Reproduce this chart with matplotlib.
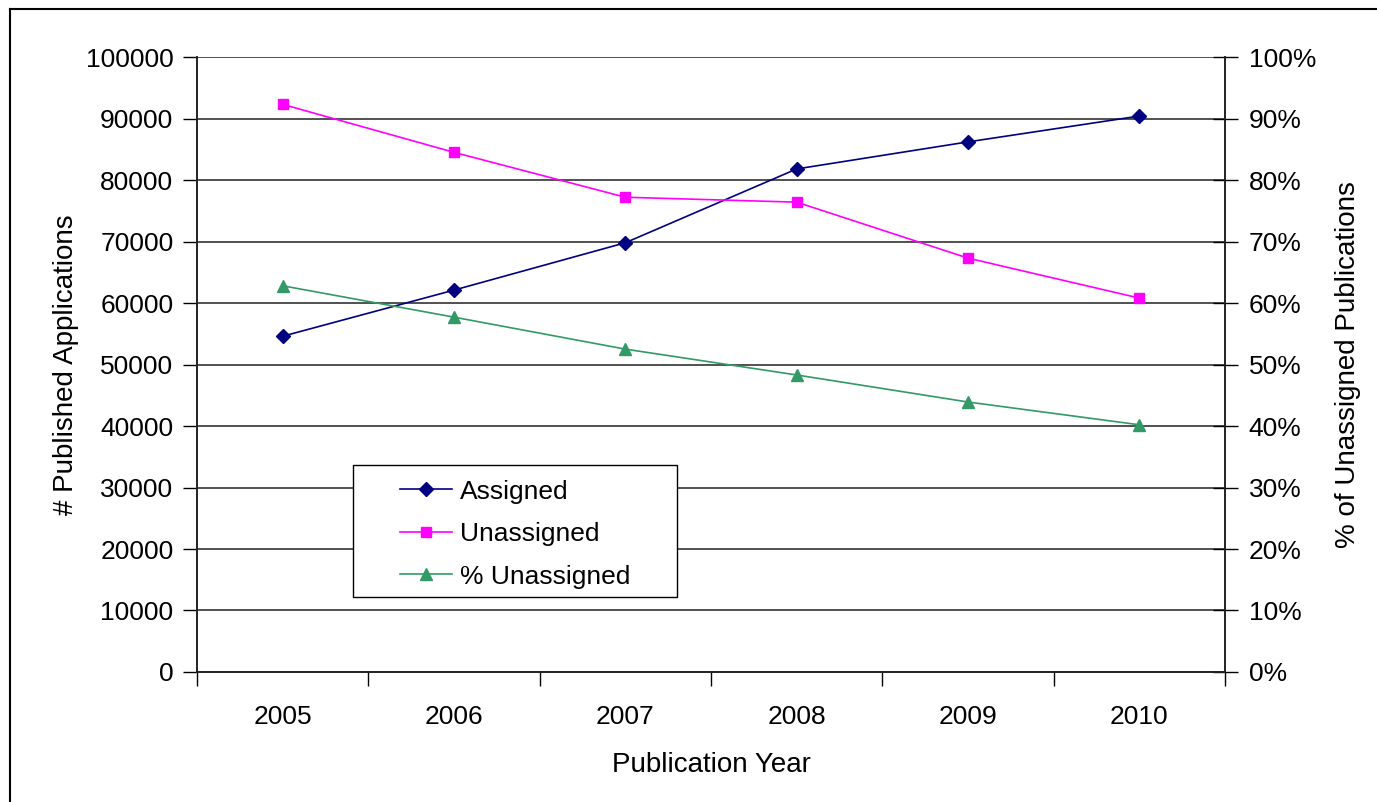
import matplotlib
matplotlib.use("Agg")
import matplotlib.pyplot as plt
import numpy as np
from matplotlib.lines import Line2D
from matplotlib.patches import Rectangle
from matplotlib.ticker import PercentFormatter

plt.rcParams['font.family'] = ['Liberation Sans', 'DejaVu Sans']

# data
years = ['2005', '2006', '2007', '2008', '2009', '2010']
assigned = [54600, 62100, 69800, 81800, 86200, 90400]
unassigned = [92300, 84500, 77200, 76400, 67300, 60800]
pct_unassigned = [0.628, 0.577, 0.525, 0.483, 0.439, 0.402]

fig = plt.figure(figsize=(13.77, 8.02), dpi=100)
ax = fig.add_axes([0.1431, 0.1621, 0.7465, 0.7668])
ax2 = ax.twinx()

x = np.arange(len(years))

# outer chart frame (only left and top edges are visible in the original)
fig.add_artist(Line2D([0.0073, 0.0073], [0, 0.989], transform=fig.transFigure, color='black', lw=1.5))
fig.add_artist(Line2D([0.0073, 1.0], [0.989, 0.989], transform=fig.transFigure, color='black', lw=1.5))

ax.plot(x, assigned, color='#000080', lw=1.2, marker='D', ms=7, label='Assigned')
ax.plot(x, unassigned, color='#FF00FF', lw=1.2, marker='s', ms=7.5, label='Unassigned')
ax2.plot(x, pct_unassigned, color='#339966', lw=1.2, marker='^', ms=9, label='% Unassigned')

ax.set_ylim(0, 100000)
ax.set_yticks(np.arange(0, 100001, 10000))
ax2.set_ylim(0, 1)
ax2.set_yticks(np.arange(0, 1.01, 0.1))
ax2.yaxis.set_major_formatter(PercentFormatter(1.0, decimals=0))

ax.set_xlim(-0.5, 5.5)
ax.set_xticks(x)
ax.set_xticklabels(years)
ax.set_xticks(np.arange(-0.5, 6, 1), minor=True)
ax.tick_params(axis='x', which='major', length=0, pad=24, labelsize=19)
ax.tick_params(axis='x', which='minor', length=10, width=1, direction='out')
ax.tick_params(axis='y', length=10, width=1, direction='out', pad=7, labelsize=19)
ax2.tick_params(axis='y', length=18, width=1, direction='inout', pad=8, labelsize=19)

ax.yaxis.grid(True, color='#333333', lw=1.2)
ax.set_axisbelow(True)

for s in ['top']:
    ax.spines[s].set_visible(False)
    ax2.spines[s].set_visible(False)
for a in (ax, ax2):
    for s in ['left', 'right', 'bottom']:
        a.spines[s].set_color('#222222')
        a.spines[s].set_linewidth(1.2)

ax.set_xlabel('Publication Year', fontsize=20, labelpad=16)
ax.set_ylabel('# Published Applications', fontsize=20, labelpad=5)
ax2.set_ylabel('% of Unassigned Publications', fontsize=20, rotation=90, labelpad=14)

# legend box like the Excel one
ax2.add_patch(Rectangle((0.1518, 0.122), 0.3152, 0.2146, transform=ax2.transAxes,
                        facecolor='white', edgecolor='black', lw=1, zorder=5))
h1, l1 = ax.get_legend_handles_labels()
h2, l2 = ax2.get_legend_handles_labels()
leg = ax2.legend(h1 + h2, l1 + l2, loc='center', bbox_to_anchor=(0.1518 + 0.3152 / 2, 0.122 + 0.2146 / 2 - 0.005),
                 frameon=False, fontsize=19, handlelength=2.0, handletextpad=0.3, labelspacing=0.7)
leg.set_zorder(6)

fig.savefig('out.png', dpi=100)
